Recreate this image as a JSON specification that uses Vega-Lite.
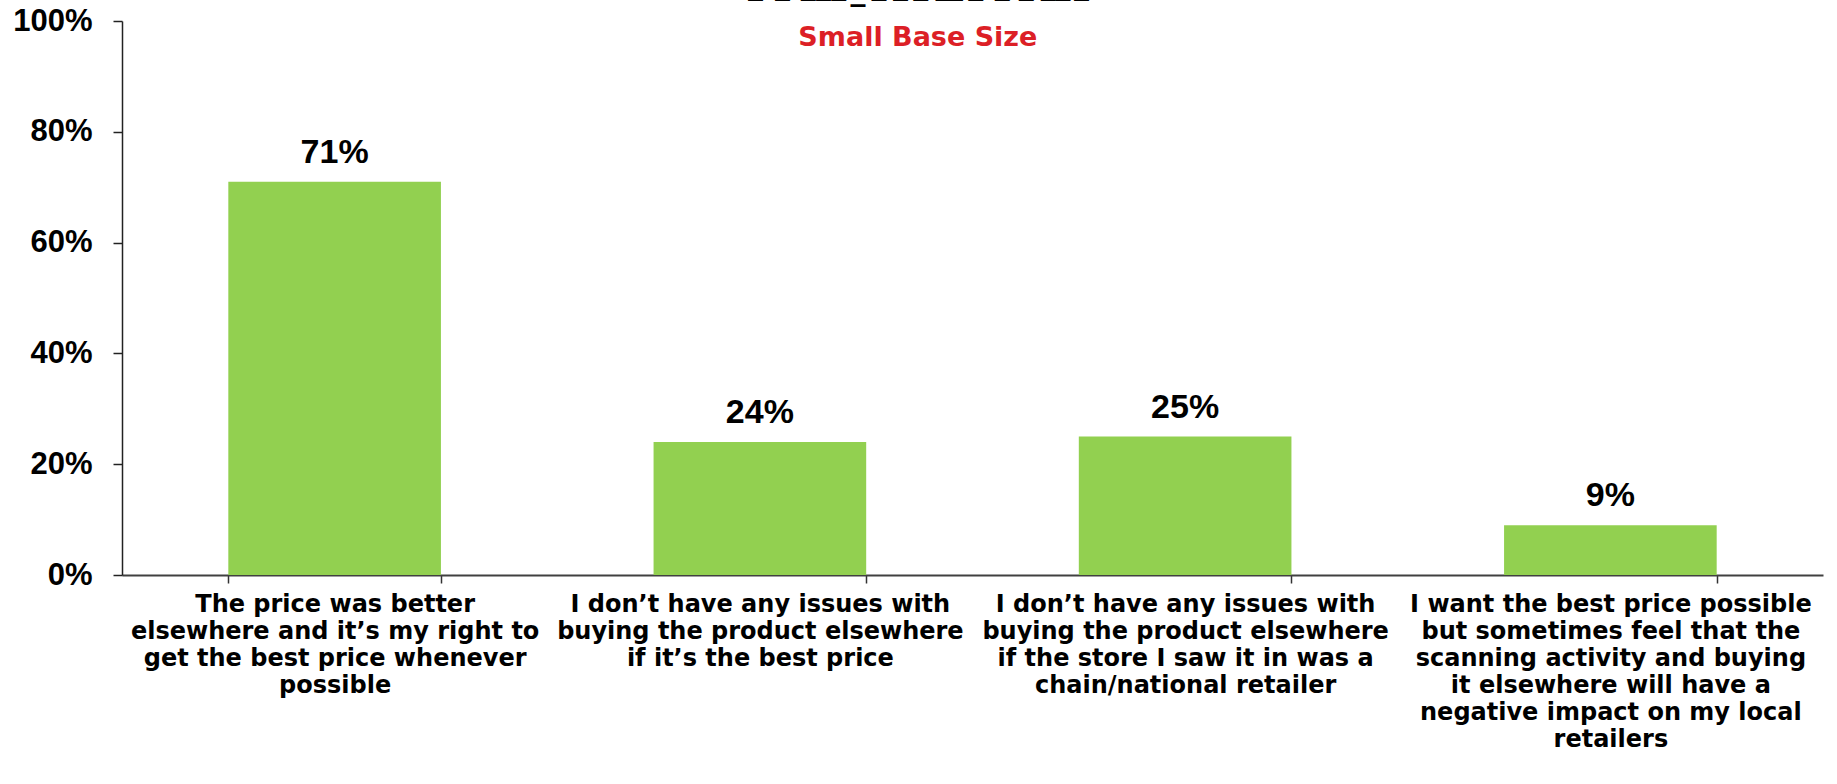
{
  "$schema": "https://vega.github.io/schema/vega-lite/v6.json",
  "width": 1701,
  "height": 554,
  "autosize": {"type": "none"},
  "padding": {"left": 122, "top": 21, "right": 14, "bottom": 209},
  "background": "white",
  "title": {
    "text": "S̲m̲a̲r̲t̲p̲h̲o̲n̲e̲ ̲O̲w̲n̲e̲r̲s̲",
    "subtitle": "Small Base Size",
    "anchor": "middle",
    "frame": "bounds",
    "font": "DejaVu Sans",
    "fontSize": 30,
    "fontWeight": "bold",
    "color": "black",
    "subtitleFont": "DejaVu Sans",
    "subtitleFontSize": 27,
    "subtitleFontWeight": "bold",
    "subtitleColor": "#DC1F26",
    "subtitlePadding": 25,
    "offset": -46
  },
  "data": {
    "values": [
      {"reason": "The price was better\nelsewhere and it’s my right to\nget the best price whenever\npossible", "share": 0.71, "text": "71%"},
      {"reason": "I don’t have any issues with\nbuying the product elsewhere\nif it’s the best price", "share": 0.24, "text": "24%"},
      {"reason": "I don’t have any issues with\nbuying the product elsewhere\nif the store I saw it in was a\nchain/national retailer", "share": 0.25, "text": "25%"},
      {"reason": "I want the best price possible\nbut sometimes feel that the\nscanning activity and buying\nit elsewhere will have a\nnegative impact on my local\nretailers", "share": 0.09, "text": "9%"}
    ]
  },
  "encoding": {
    "x": {
      "field": "reason",
      "type": "nominal",
      "sort": null,
      "title": null,
      "scale": {"paddingInner": 0.5, "paddingOuter": 0.25},
      "axis": {
        "labelAngle": 0,
        "labelExpr": "split(datum.label, '\\n')",
        "labelFont": "DejaVu Sans",
        "labelFontSize": 24,
        "labelFontWeight": "bold",
        "labelColor": "black",
        "labelLineHeight": 27,
        "labelLimit": 0,
        "labelPadding": 9,
        "tickBand": "extent",
        "tickSize": 8,
        "tickColor": "#333333",
        "tickWidth": 1.5,
        "domainColor": "#404040",
        "domainWidth": 2
      }
    },
    "y": {
      "field": "share",
      "type": "quantitative",
      "title": null,
      "scale": {"domain": [0, 1], "nice": false},
      "axis": {
        "values": [0, 0.2, 0.4, 0.6, 0.8, 1],
        "format": ".0%",
        "grid": false,
        "labelFont": "Liberation Sans",
        "labelFontSize": 31,
        "labelFontWeight": "bold",
        "labelColor": "black",
        "labelPadding": 21,
        "tickSize": 9,
        "tickColor": "#222222",
        "tickWidth": 1.5,
        "domainColor": "#222222",
        "domainWidth": 1.5
      }
    }
  },
  "layer": [
    {"mark": {"type": "bar", "color": "#92D050"}},
    {
      "mark": {"type": "text", "font": "Liberation Sans", "fontSize": 34, "fontWeight": "bold", "color": "black", "baseline": "alphabetic", "dy": -19},
      "encoding": {"text": {"field": "text"}}
    }
  ],
  "config": {"view": {"stroke": null}}
}
